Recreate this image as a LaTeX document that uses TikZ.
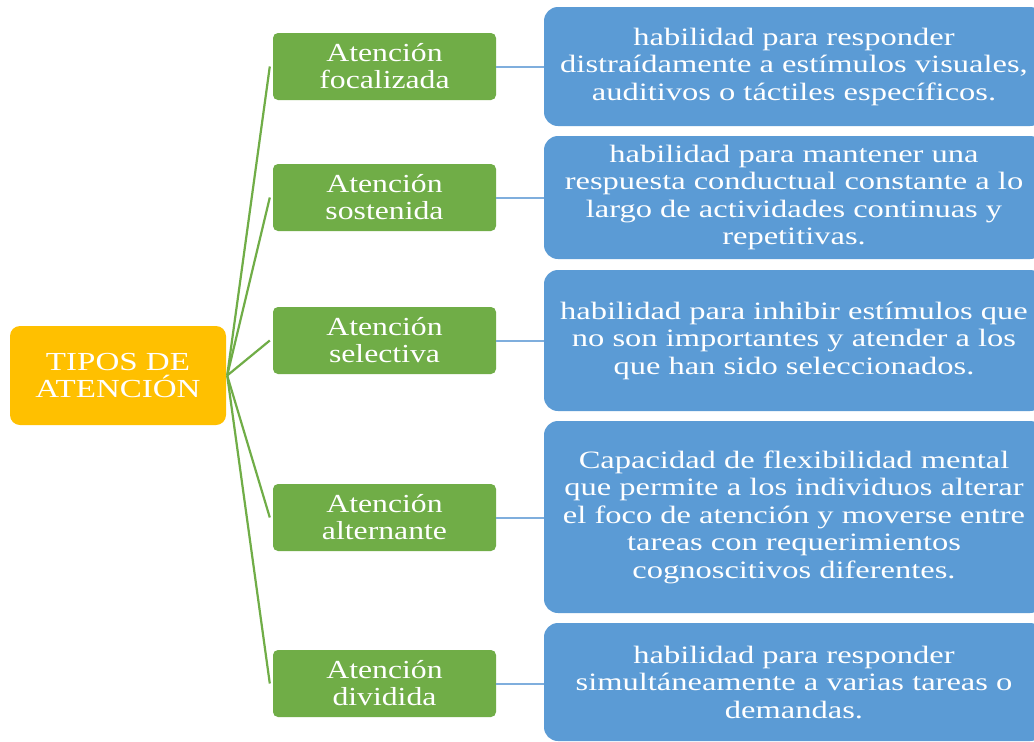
\documentclass[tikz,border=0pt]{standalone}
\usepackage{fontspec}
\setmainfont{Liberation Serif}
\newfontfamily\gfont[FakeStretch=1.22]{Liberation Serif}
\newfontfamily\yfont[FakeStretch=1.27]{Liberation Serif}
\newfontfamily\bfont[FakeStretch=1.3]{Liberation Serif}
\definecolor{cy}{HTML}{FFC000}
\definecolor{cg}{HTML}{70AD47}
\definecolor{cb}{HTML}{5B9BD5}
\definecolor{cbl}{HTML}{7FAEDD}
\tikzset{
  root/.style={fill=cy, rounded corners=10pt, minimum width=216pt, minimum height=99pt,
    inner sep=0pt, text=white, align=center, font=\yfont\fontsize{26}{27}\selectfont},
  cat/.style={fill=cg, rounded corners=5pt, minimum width=223pt, minimum height=67pt,
    inner sep=0pt, text=white, align=center, font=\gfont\fontsize{26}{27}\selectfont},
  desc/.style={fill=cb, rounded corners=14pt, minimum width=500pt,
    inner sep=0pt, text=white, align=center, font=\bfont\fontsize{25}{27.5}\selectfont},
  gline/.style={draw=cg, line width=2.2pt},
  bline/.style={draw=cbl, line width=2pt}
}
\begin{document}
\begin{tikzpicture}[x=1pt,y=-1pt]
\useasboundingbox (0,0) rectangle (1034,742);
\clip (0,0) rectangle (1034,742);
\fill[white] (0,0) rectangle (1034,742);

\node[root] (r) at (118,375.5) {TIPOS DE\\ATENCIÓN};

\node[cat] (g1) at (384.5,66.5) {Atención\\focalizada};
\node[cat] (g2) at (384.5,197.5) {Atención\\sostenida};
\node[cat] (g3) at (384.5,340.5) {Atención\\selectiva};
\node[cat] (g4) at (384.5,517.5) {Atención\\alternante};
\node[cat] (g5) at (384.5,683.5) {Atención\\dividida};

\node[desc, minimum height=119pt] (b1) at (794,66.5) {habilidad para responder\\distraídamente a estímulos visuales,\\auditivos o táctiles específicos.};
\node[desc, minimum height=123pt] (b2) at (794,197.5) {habilidad para mantener una\\respuesta conductual constante a lo\\largo de actividades continuas y\\repetitivas.};
\node[desc, minimum height=141pt] (b3) at (794,340.5) {habilidad para inhibir estímulos que\\no son importantes y atender a los\\que han sido seleccionados.};
\node[desc, minimum height=192pt] (b4) at (794,517) {Capacidad de flexibilidad mental\\que permite a los individuos alterar\\el foco de atención y moverse entre\\tareas con requerimientos\\cognoscitivos diferentes.};
\node[desc, minimum height=118pt] (b5) at (794,682) {habilidad para responder\\simultáneamente a varias tareas o\\demandas.};

\foreach \i in {1,...,5}{
  \draw[gline] ([xshift=1pt]r.east) -- ([xshift=-3pt]g\i.west);
  \draw[bline] (g\i.east) -- (b\i.west |- g\i.east);
}
\end{tikzpicture}
\end{document}
